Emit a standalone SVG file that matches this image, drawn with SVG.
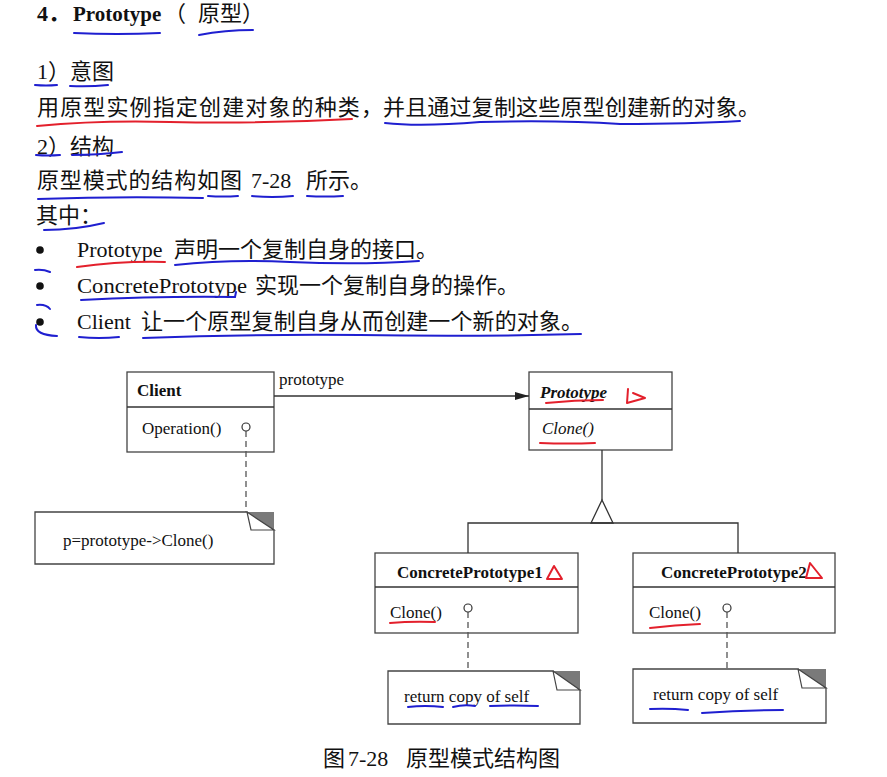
<svg xmlns="http://www.w3.org/2000/svg" width="887" height="777" viewBox="0 0 887 777">
<style>
.t{font-family:'Liberation Serif','Noto Sans CJK SC',serif;font-size:22px;fill:#111}
.d{font-family:'Liberation Serif','Noto Sans CJK SC',serif;font-size:17px;fill:#111}
.b{font-weight:bold}
.i{font-style:italic}
.box{fill:#fff;stroke:#444;stroke-width:1.3}
.ln{stroke:#333;stroke-width:1.3;fill:none}
.dash{stroke:#555;stroke-width:1.3;stroke-dasharray:6 4;fill:none}
.fold{fill:#7a7a7a;stroke:none}
.foldl{fill:#fff;stroke:#444;stroke-width:1.2}
.pin{fill:#fff;stroke:#333;stroke-width:1.2}
.blue{stroke:#1f1fd0;stroke-width:2;fill:none;stroke-linecap:round}
.red{stroke:#e3202c;stroke-width:2;fill:none;stroke-linecap:round;stroke-linejoin:round}
</style>
<defs>
<marker id="arr" viewBox="0 0 14 8" refX="14" refY="4" markerWidth="14" markerHeight="8" markerUnits="userSpaceOnUse" orient="auto">
<path d="M0,0 L14,4 L0,8 z" fill="#222"/>
</marker>
</defs>
<rect width="887" height="777" fill="#fff"/>

<g id="text-body">
<text class="t" y="21"><tspan x="37" class="b">4．</tspan><tspan x="73" class="b" font-size="21">Prototype</tspan><tspan x="164">（</tspan><tspan x="198">原型</tspan><tspan x="242">）</tspan></text>
<text class="t" x="37" y="79">1）意图</text>
<text class="t" y="115"><tspan x="37" textLength="346" lengthAdjust="spacing">用原型实例指定创建对象的种类，</tspan><tspan x="383" textLength="377" lengthAdjust="spacing">并且通过复制这些原型创建新的对象。</tspan></text>
<text class="t" x="37" y="154">2）结构</text>
<text class="t" y="188"><tspan x="37" textLength="205" lengthAdjust="spacing">原型模式的结构如图</tspan><tspan x="251">7-28</tspan><tspan x="306">所示。</tspan></text>
<text class="t" x="36" y="223">其中：</text>
<circle cx="40" cy="250" r="3.8" fill="#111"/>
<circle cx="40" cy="286" r="3.8" fill="#111"/>
<circle cx="40" cy="322" r="3.8" fill="#111"/>
<text class="t" y="257"><tspan x="77">Prototype</tspan><tspan x="174">声明一个复制自身的接口。</tspan></text>
<text class="t" y="293"><tspan x="77" textLength="170" lengthAdjust="spacingAndGlyphs">ConcretePrototype</tspan><tspan x="255">实现一个复制自身的操作。</tspan></text>
<text class="t" y="329"><tspan x="77">Client</tspan><tspan x="141" textLength="442" lengthAdjust="spacing">让一个原型复制自身从而创建一个新的对象。</tspan></text>
</g>

<g id="client">
<rect class="box" x="127" y="372" width="147" height="80"/>
<line class="ln" x1="127" y1="407" x2="274" y2="407"/>
<text class="d b" x="137" y="396">Client</text>
<text class="d" x="142" y="434">Operation()</text>
</g>

<g id="client-note">
<polygon class="box" points="35,512 247,512 274,530 274,564 35,564"/>
<polygon class="fold" points="247,512 274,512 274,530"/>
<polyline class="foldl" points="247,512 251,530 274,530 247,512"/>
<text class="d" x="63" y="546">p=prototype->Clone()</text>
</g>

<g id="prototype">
<rect class="box" x="529" y="372" width="143" height="78"/>
<line class="ln" x1="529" y1="409" x2="672" y2="409"/>
<text class="d b i" x="540" y="398">Prototype</text>
<text class="d i" x="542" y="434">Clone()</text>
</g>

<g id="concrete1">
<rect class="box" x="375" y="553" width="203" height="80"/>
<line class="ln" x1="375" y1="587" x2="578" y2="587"/>
<text class="d b" x="397" y="578" font-size="16.6">ConcretePrototype1</text>
<text class="d" x="390" y="618">Clone()</text>
</g>

<g id="note1">
<polygon class="box" points="388,671 553,671 580,690 580,724 388,724"/>
<polygon class="fold" points="553,671 580,671 580,690"/>
<polyline class="foldl" points="553,671 557,690 580,690 553,671"/>
<text class="d" x="404" y="702">return copy of self</text>
</g>

<g id="concrete2">
<rect class="box" x="633" y="553" width="202" height="80"/>
<line class="ln" x1="633" y1="587" x2="835" y2="587"/>
<text class="d b" x="661" y="578" font-size="16.6">ConcretePrototype2</text>
<text class="d" x="649" y="618">Clone()</text>
</g>

<g id="note2">
<polygon class="box" points="633,669 798,669 826,688 826,723 633,723"/>
<polygon class="fold" points="798,669 826,669 826,688"/>
<polyline class="foldl" points="798,669 802,688 826,688 798,669"/>
<text class="d" x="653" y="700">return copy of self</text>
</g>

<g id="connectors">
<line class="ln" x1="274" y1="396" x2="529" y2="396" marker-end="url(#arr)"/>
<text class="d" x="279" y="385">prototype</text>
<line class="dash" x1="246" y1="431" x2="246" y2="512"/>
<circle class="pin" cx="246" cy="427" r="4"/>
<line class="ln" x1="602" y1="450" x2="602" y2="500"/>
<polygon points="602,500 591,523 613,523" fill="#fff" stroke="#333" stroke-width="1.3"/>
<polyline class="ln" points="468,553 468,523 738,523 738,553"/>
<line class="dash" x1="468" y1="612" x2="468" y2="671"/>
<circle class="pin" cx="468" cy="608" r="4"/>
<line class="dash" x1="727" y1="612" x2="727" y2="669"/>
<circle class="pin" cx="727" cy="608" r="4"/>
</g>

<g id="caption">
<text class="t" font-size="19" y="766"><tspan x="323">图</tspan><tspan x="348">7-28</tspan><tspan x="406">原型模式结构图</tspan></text>
</g>

<g id="annotations">
<path class="blue" d="M74,33 Q117,35 160,33"/>
<path class="blue" d="M199,35 Q225,30 253,30"/>
<path class="blue" d="M35,85 Q46,86 57,85"/>
<path class="blue" d="M70,86 Q89,87 108,85"/>
<path class="red" d="M37,126 Q100,120 170,122 Q260,124 352,119"/>
<path class="blue" d="M385,123 Q420,127 480,122 Q560,120 620,124 Q690,124 740,121"/>
<path class="blue" d="M36,155 Q48,156 60,155"/>
<path class="blue" d="M72,155 Q98,155 122,152"/>
<path class="blue" d="M38,199 Q120,196 203,198"/>
<path class="blue" d="M208,196 Q223,197 238,196"/>
<path class="blue" d="M252,196 Q272,198 293,196"/>
<path class="blue" d="M307,196 Q325,197 343,196"/>
<path class="blue" d="M44,230 Q75,230 104,223"/>
<path class="red" d="M77,267 Q120,261 165,262"/>
<path class="blue" d="M175,265 Q230,259 290,262 Q360,265 419,261"/>
<path class="blue" d="M35,270 Q43,269 50,272"/>
<path class="blue" d="M81,300 Q160,296 235,297 L236,292"/>
<path class="blue" d="M37,305 Q46,304 50,309"/>
<path class="blue" d="M36,325 Q35,335 57,336"/>
<path class="blue" d="M79,337 Q99,339 119,337"/>
<path class="blue" d="M143,338 Q250,334 360,335 Q470,337 581,334"/>
<path class="red" d="M546,403 Q575,400 603,400"/>
<path class="red" d="M628,389 L627,403 L645,398 L633,393"/>
<path class="red" d="M540,443 Q568,444 595,443"/>
<path class="red" d="M547,579 L554,566 L562,579 Z"/>
<path class="red" d="M390,623 Q412,621 435,622"/>
<path class="blue" d="M408,707 Q425,705 443,707"/>
<path class="blue" d="M453,707 Q464,704 475,706"/>
<path class="blue" d="M490,706 Q514,705 538,706"/>
<path class="red" d="M806,578 L810,563 L822,578 Z"/>
<path class="red" d="M650,628 Q675,625 700,624"/>
<path class="blue" d="M650,709 Q669,708 688,710"/>
<path class="blue" d="M702,713 Q742,710 783,710"/>
</g>
</svg>
